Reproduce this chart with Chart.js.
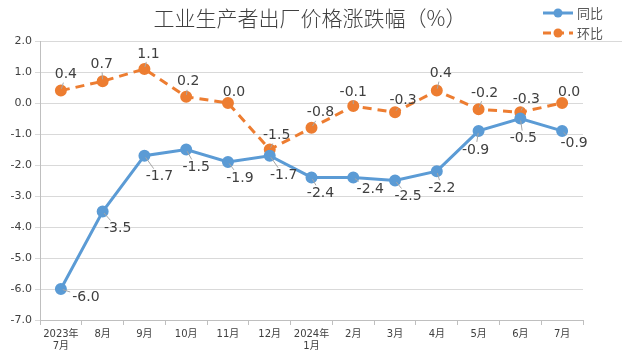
<!DOCTYPE html>
<html><head><meta charset="utf-8">
<script src="https://cdn.jsdelivr.net/npm/chart.js@4.4.1/dist/chart.umd.min.js"></script>
<style>html,body{margin:0;padding:0;background:#fff}#wrap{width:625px;height:355px;position:relative}</style>
</head><body><div id="wrap"><canvas id="c" width="625" height="355"></canvas></div>
<script>
const titleText = '工业生产者出厂价格涨跌幅（%）';
const categories = [['2023年','7月'],'8月','9月','10月','11月','12月',['2024年','1月'],'2月','3月','4月','5月','6月','7月'];
const yoyLabel = '同比';
const momLabel = '环比';
const yoy = [-6.0,-3.5,-1.7,-1.5,-1.9,-1.7,-2.4,-2.4,-2.5,-2.2,-0.9,-0.5,-0.9];
const mom = [0.4,0.7,1.1,0.2,0.0,-1.5,-0.8,-0.1,-0.3,0.4,-0.2,-0.3,0.0];
const yTicks = [2,1,0,-1,-2,-3,-4,-5,-6,-7];

// label offsets (dx, dy) relative to point
const yoyOff = [[25,8],[15,17],[15,21],[10,18],[12,16],[14,20],[9,16],[17,12],[13,16],[5,17],[-3,19],[3,20],[12,12]];
const momOff = [[5,-16],[-1,-17],[4,-15],[2,-15],[6,-11],[7,-14],[9,-15],[0,-14],[8,-12],[4,-17],[6,-16],[6,-13],[7,-11]];

const BLUE = '#5B9BD5', ORANGE = '#ED7D31';
const FONT = '"DejaVu Sans","Noto Sans CJK SC",sans-serif';

const labelPlugin = {
  id: 'labels',
  afterDatasetsDraw(chart) {
    const ctx = chart.ctx;
    ctx.save();
    ctx.font = '14px ' + FONT;
    ctx.textAlign = 'center';
    ctx.textBaseline = 'middle';
    [[0, yoy, yoyOff], [1, mom, momOff]].forEach(([di, vals, offs]) => {
      const meta = chart.getDatasetMeta(di);
      meta.data.forEach((pt, i) => {
        const txt = vals[i].toFixed(1);
        const lx = pt.x + offs[i][0], ly = pt.y + offs[i][1];
        const w = ctx.measureText(txt).width / 2 + 2, h = 8;
        const dx = lx - pt.x, dy = ly - pt.y;
        const dist = Math.hypot(dx, dy);
        const tx = dx !== 0 ? w / Math.abs(dx) : Infinity;
        const ty = dy !== 0 ? h / Math.abs(dy) : Infinity;
        const t = Math.min(tx, ty);
        const ex = lx - dx * t, ey = ly - dy * t;
        if (Math.hypot(ex - pt.x, ey - pt.y) > 4) {
          ctx.strokeStyle = '#a6a6a6';
          ctx.lineWidth = 1;
          ctx.beginPath();
          ctx.moveTo(pt.x + dx / dist * 2, pt.y + dy / dist * 2);
          ctx.lineTo(ex, ey);
          ctx.stroke();
        }
        ctx.fillStyle = '#404040';
        ctx.fillText(txt, lx, ly);
      });
    });
    ctx.restore();
  }
};

const decorPlugin = {
  id: 'decor',
  afterDraw(chart) {
    const ctx = chart.ctx;
    ctx.save();
    // title
    ctx.font = '300 21px "Noto Sans CJK SC",sans-serif';
    ctx.fillStyle = '#404040';
    ctx.textAlign = 'center';
    ctx.textBaseline = 'middle';
    ctx.fillText(titleText, 310, 18);
    // legend
    const items = [[yoyLabel, BLUE, [], 13], [momLabel, ORANGE, [8, 5], 33]];
    items.forEach(([lab, col, dash, y]) => {
      ctx.strokeStyle = col;
      ctx.lineWidth = 3;
      ctx.setLineDash(dash);
      ctx.beginPath();
      ctx.moveTo(543, y);
      ctx.lineTo(573, y);
      ctx.stroke();
      ctx.setLineDash([]);
      ctx.fillStyle = col;
      ctx.beginPath();
      ctx.arc(558, y, 4.5, 0, Math.PI * 2);
      ctx.fill();
      ctx.font = '13px "Noto Sans CJK SC",sans-serif';
      ctx.fillStyle = '#595959';
      ctx.textAlign = 'left';
      ctx.fillText(lab, 577, y);
    });
    ctx.strokeStyle = '#d9d9d9';
    ctx.lineWidth = 1;
    ctx.beginPath();
    ctx.moveTo(583, 41.5);
    ctx.lineTo(622, 41.5);
    ctx.stroke();
    ctx.restore();
  }
};

new Chart(document.getElementById('c'), {
  type: 'line',
  data: {
    labels: categories,
    datasets: [
      { label: yoyLabel, data: yoy, borderColor: BLUE, backgroundColor: BLUE, borderWidth: 3,
        pointRadius: 4.5, pointBackgroundColor: BLUE, pointBorderColor: BLUE, tension: 0 },
      { label: momLabel, data: mom, borderColor: ORANGE, backgroundColor: ORANGE, borderWidth: 3,
        borderDash: [9, 6], pointRadius: 4.5, pointBackgroundColor: ORANGE, pointBorderColor: ORANGE, tension: 0 }
    ]
  },
  options: {
    responsive: false,
    animation: false,
    devicePixelRatio: 1,
    layout: { padding: { top: 41, right: 42, left: 0, bottom: 0 } },
    plugins: { legend: { display: false }, title: { display: false }, tooltip: { enabled: false } },
    scales: {
      x: {
        offset: true,
        grid: { offset: true, drawOnChartArea: false, drawTicks: true, tickLength: 5, color: '#bfbfbf' },
        border: { color: '#bfbfbf' },
        ticks: { color: '#404040', font: { size: 10, family: FONT, lineHeight: 1.15 }, padding: 4, maxRotation: 0, autoSkip: false },
        afterFit(s) { s.height = 35; }
      },
      y: {
        min: -7, max: 2,
        afterBuildTicks(s) { s.ticks = yTicks.map(v => ({ value: v })); },
        grid: { color: '#d9d9d9', tickLength: 5, drawTicks: true },
        border: { color: '#bfbfbf' },
        ticks: { color: '#404040', font: { size: 11, family: FONT }, padding: 3,
          callback: v => v.toFixed(1) },
        afterFit(s) { s.width = 40; }
      }
    }
  },
  plugins: [labelPlugin, decorPlugin]
});
</script></body></html>
